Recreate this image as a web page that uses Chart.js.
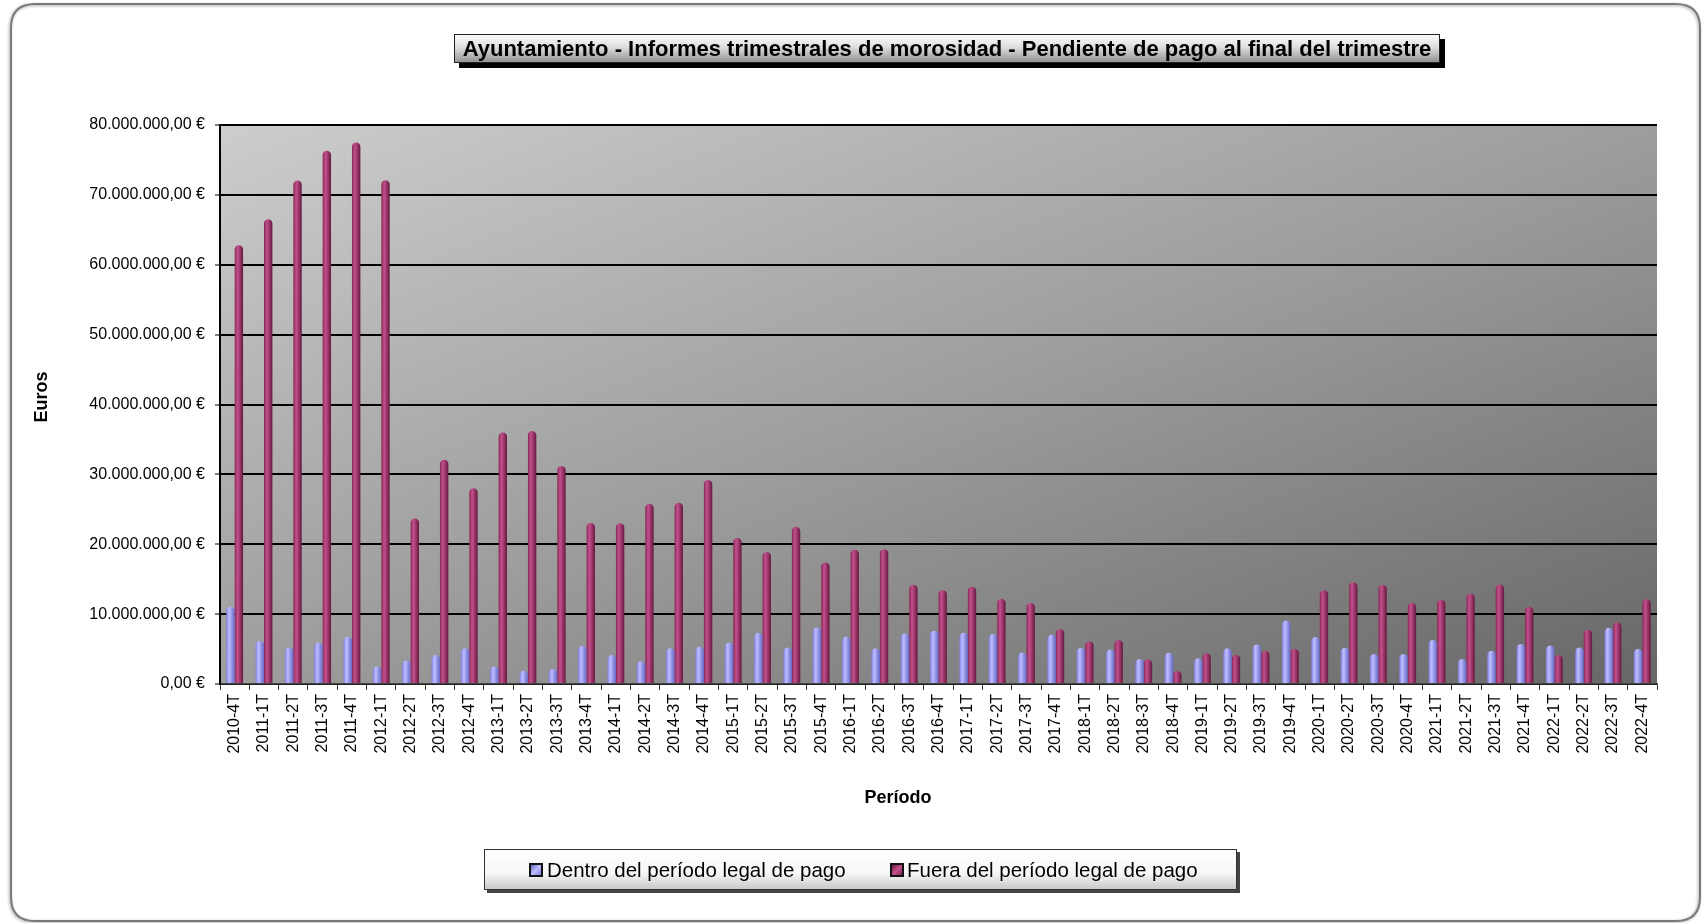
<!DOCTYPE html>
<html>
<head>
<meta charset="utf-8">
<script src="https://cdn.jsdelivr.net/npm/chart.js@4/dist/chart.umd.min.js"></script>
<style>
html,body{margin:0;padding:0;background:#fff;overflow:hidden}
#wrap{position:relative;width:1702px;height:923px}
</style>
</head>
<body>
<div id="wrap"><canvas id="c"></canvas></div>
<script>
const categories = ['2010-4T','2011-1T','2011-2T','2011-3T','2011-4T','2012-1T','2012-2T','2012-3T','2012-4T',
  '2013-1T','2013-2T','2013-3T','2013-4T','2014-1T','2014-2T','2014-3T','2014-4T',
  '2015-1T','2015-2T','2015-3T','2015-4T','2016-1T','2016-2T','2016-3T','2016-4T',
  '2017-1T','2017-2T','2017-3T','2017-4T','2018-1T','2018-2T','2018-3T','2018-4T',
  '2019-1T','2019-2T','2019-3T','2019-4T','2020-1T','2020-2T','2020-3T','2020-4T',
  '2021-1T','2021-2T','2021-3T','2021-4T','2022-1T','2022-2T','2022-3T','2022-4T'];

const dentro = [11050000, 6140000, 5240000, 5950000, 6760000, 2520000, 3380000, 4140000, 5100000,
  2520000, 1900000, 2140000, 5430000, 4140000, 3240000, 5100000, 5330000,
  5900000, 7330000, 5240000, 8100000, 6800000, 5100000, 7240000, 7620000,
  7330000, 7140000, 4520000, 7050000, 5140000, 4950000, 3570000, 4480000,
  3670000, 5100000, 5670000, 9100000, 6710000, 5190000, 4290000, 4290000,
  6290000, 3570000, 4760000, 5710000, 5520000, 5240000, 8050000, 5000000];

const fuera = [62800000, 66500000, 72050000, 76300000, 77500000, 72100000, 23700000, 32100000, 28000000,
  36000000, 36200000, 31200000, 23050000, 23000000, 25800000, 25950000, 29200000,
  20900000, 18900000, 22500000, 17400000, 19200000, 19300000, 14200000, 13400000,
  13900000, 12200000, 11600000, 7860000, 6100000, 6300000, 3500000, 1860000,
  4400000, 4200000, 4760000, 5050000, 13400000, 14570000, 14200000, 11600000,
  12050000, 12900000, 14240000, 11050000, 4140000, 7800000, 8800000, 12140000];

const seriesNames = ['Dentro del período legal de pago', 'Fuera del período legal de pago'];
const yMin = 0, yMax = 80000000, yStep = 10000000;
const chartTitle = 'Ayuntamiento - Informes trimestrales de morosidad - Pendiente de pago al final del trimestre';
const yTitle = 'Euros';
const xTitle = 'Período';

const FONT = "'Liberation Sans', Arial, Helvetica, sans-serif";
const BAR_W = 8.4;
const BLUE = ['#8282e6', '#bdbdff', '#6767c8'];
const RED = ['#8a2858', '#c2508b', '#661840'];

function euro(v) {
  const s = Math.round(v).toString().replace(/\B(?=(\d{3})+(?!\d))/g, '.');
  return s + ',00 €';
}

function cyl(c, side, stops) {
  const chart = c.chart;
  const xs = chart.scales && chart.scales.x;
  if (c.type !== 'data' || !xs || !chart.ctx) return stops[1];
  const center = xs.getPixelForValue(c.dataIndex);
  if (!isFinite(center)) return stops[1];
  const x0 = side < 0 ? center - BAR_W : center;
  const g = chart.ctx.createLinearGradient(x0, 0, x0 + BAR_W, 0);
  g.addColorStop(0, stops[0]);
  g.addColorStop(0.35, stops[1]);
  g.addColorStop(1, stops[2]);
  return g;
}

function roundRect(ctx, x, y, w, h, r) {
  ctx.beginPath();
  ctx.moveTo(x + r, y);
  ctx.lineTo(x + w - r, y);
  ctx.quadraticCurveTo(x + w, y, x + w, y + r);
  ctx.lineTo(x + w, y + h - r);
  ctx.quadraticCurveTo(x + w, y + h, x + w - r, y + h);
  ctx.lineTo(x + r, y + h);
  ctx.quadraticCurveTo(x, y + h, x, y + h - r);
  ctx.lineTo(x, y + r);
  ctx.quadraticCurveTo(x, y, x + r, y);
  ctx.closePath();
}

const backdrop = {
  id: 'backdrop',
  beforeDraw(chart) {
    const ctx = chart.ctx;
    const a = chart.chartArea;
    ctx.save();
    ctx.fillStyle = '#ffffff';
    ctx.fillRect(0, 0, chart.width, chart.height);
    ctx.shadowColor = 'rgba(0,0,0,0.35)';
    ctx.shadowBlur = 3;
    ctx.shadowOffsetX = -1;
    ctx.shadowOffsetY = 1;
    roundRect(ctx, 11, 4, 1689, 917, 24);
    ctx.strokeStyle = '#7a7a7a';
    ctx.lineWidth = 2;
    ctx.stroke();
    ctx.shadowColor = 'transparent';
    if (a && isFinite(a.left) && a.right > a.left && a.bottom > a.top) {
      const w = a.right - a.left, h = a.bottom - a.top;
      const k = 2 * w * h / (w * w + h * h);
      const g = ctx.createLinearGradient(a.left, a.top, a.left + h * k, a.top + w * k);
      g.addColorStop(0, '#cdcdcd');
      g.addColorStop(0.5, '#9d9d9d');
      g.addColorStop(1, '#676767');
      ctx.fillStyle = g;
      ctx.fillRect(a.left, a.top, w, h);
    }
    ctx.restore();
  }
};

function marker(ctx, x, y, s, stops) {
  ctx.fillStyle = '#111';
  ctx.fillRect(x, y, s, s);
  const g = ctx.createLinearGradient(x + 2, y + 2, x + s - 2, y + s - 2);
  g.addColorStop(0, stops[2]);
  g.addColorStop(0.5, stops[1]);
  g.addColorStop(1, stops[0]);
  ctx.fillStyle = g;
  ctx.fillRect(x + 2, y + 2, s - 4, s - 4);
}

const decorations = {
  id: 'decorations',
  afterDraw(chart) {
    const ctx = chart.ctx;
    ctx.save();
    const tx = 454, ty = 34, tw = 986, th = 29;
    ctx.fillStyle = '#000';
    ctx.fillRect(tx + 5, ty + 5, tw, th);
    const tg = ctx.createLinearGradient(0, ty, 0, ty + th);
    tg.addColorStop(0, '#ffffff');
    tg.addColorStop(0.45, '#dedede');
    tg.addColorStop(1, '#8e8e8e');
    ctx.fillStyle = tg;
    ctx.fillRect(tx, ty, tw, th);
    ctx.strokeStyle = '#222';
    ctx.lineWidth = 1;
    ctx.strokeRect(tx + 0.5, ty + 0.5, tw - 1, th - 1);
    ctx.fillStyle = '#000';
    ctx.font = 'bold 22px ' + FONT;
    ctx.textAlign = 'center';
    ctx.textBaseline = 'middle';
    ctx.fillText(chartTitle, tx + tw / 2, ty + th / 2 + 1);

    ctx.font = 'bold 18px ' + FONT;
    ctx.fillText(xTitle, 898, 798);
    ctx.save();
    ctx.translate(42, 397);
    ctx.rotate(-Math.PI / 2);
    ctx.fillText(yTitle, 0, 0);
    ctx.restore();

    const lx = 484, ly = 849, lw = 753, lh = 41;
    ctx.fillStyle = '#444';
    ctx.fillRect(lx + 3, ly + 3, lw, lh);
    const lg = ctx.createLinearGradient(0, ly, 0, ly + lh);
    lg.addColorStop(0, '#ffffff');
    lg.addColorStop(0.6, '#f6f6f6');
    lg.addColorStop(1, '#c6c6c6');
    ctx.fillStyle = lg;
    ctx.fillRect(lx, ly, lw, lh);
    ctx.strokeStyle = '#333';
    ctx.strokeRect(lx + 0.5, ly + 0.5, lw - 1, lh - 1);
    marker(ctx, 529, 863, 14, BLUE);
    marker(ctx, 890, 863, 14, RED);
    ctx.fillStyle = '#000';
    ctx.font = '20.5px ' + FONT;
    ctx.textAlign = 'left';
    ctx.fillText(seriesNames[0], 547, 871);
    ctx.fillText(seriesNames[1], 907, 871);
    ctx.restore();
  }
};

Chart.defaults.font.family = FONT;

new Chart(document.getElementById('c'), {
  type: 'bar',
  data: {
    labels: categories,
    datasets: [
      {
        label: seriesNames[0],
        data: dentro,
        barThickness: BAR_W,
        borderRadius: {topLeft: 4.2, topRight: 4.2, bottomLeft: 0, bottomRight: 0},
        borderSkipped: 'start',
        inflateAmount: 0,
        backgroundColor: c => cyl(c, -1, BLUE)
      },
      {
        label: seriesNames[1],
        data: fuera,
        barThickness: BAR_W,
        borderRadius: {topLeft: 4.2, topRight: 4.2, bottomLeft: 0, bottomRight: 0},
        borderSkipped: 'start',
        inflateAmount: 0,
        backgroundColor: c => cyl(c, 1, RED)
      }
    ]
  },
  options: {
    responsive: true,
    maintainAspectRatio: false,
    animation: false,
    layout: {padding: {left: 0, right: 45, top: 125, bottom: 0}},
    plugins: {
      legend: {display: false},
      title: {display: false},
      tooltip: {enabled: false}
    },
    scales: {
      x: {
        offset: true,
        grid: {display: true, drawOnChartArea: false, drawTicks: true, tickLength: 6, offset: true,
               color: '#333', tickColor: '#333', tickWidth: 1},
        border: {display: true, color: '#444', width: 1.5},
        ticks: {autoSkip: false, minRotation: 90, maxRotation: 90, padding: 4, color: '#000',
                font: {size: 16, family: FONT}},
        afterFit(s) { s.height = 239; }
      },
      y: {
        min: yMin,
        max: yMax,
        grid: {color: '#000', lineWidth: 2, drawTicks: true, tickLength: 5, tickColor: '#000', tickWidth: 1},
        border: {display: true, color: '#000', width: 2},
        ticks: {stepSize: yStep, padding: 10, color: '#000', font: {size: 16, family: FONT},
                callback: v => euro(v)},
        afterFit(s) { s.width = 220; }
      }
    }
  },
  plugins: [backdrop, decorations]
});
</script>
</body>
</html>
